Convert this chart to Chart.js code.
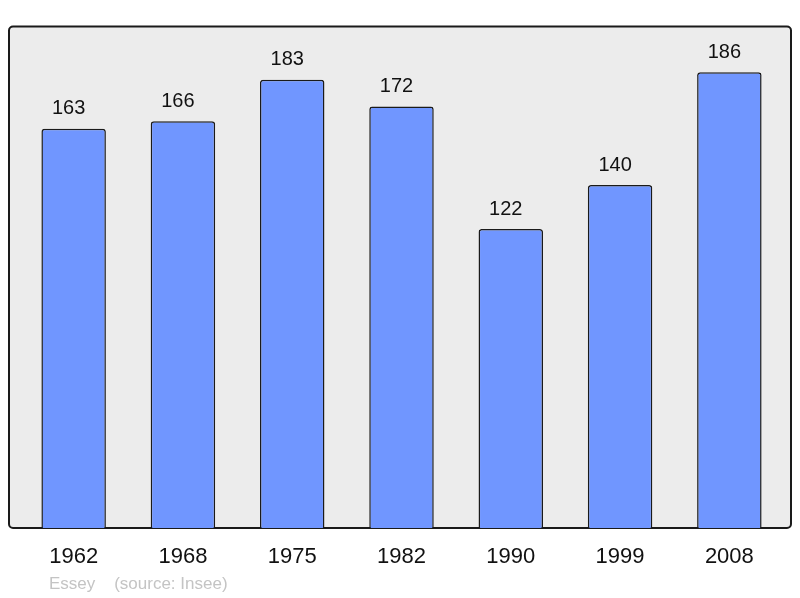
<!DOCTYPE html>
<html>
<head>
<meta charset="utf-8">
<script src="https://cdn.jsdelivr.net/npm/chart.js@4/dist/chart.umd.min.js"></script>
<style>
html,body{margin:0;padding:0;background:#fff;}
#wrap{width:800px;height:598px;position:relative;}
</style>
</head>
<body>
<div id="wrap"><canvas id="c" width="800" height="598"></canvas></div>
<script>
const years = ['1962','1968','1975','1982','1990','1999','2008'];
const population = [163,166,183,172,122,140,186];
const footnote = 'Essey    (source: Insee)';

const framePlugin = {
  id: 'frame',
  beforeDatasetsDraw(chart) {
    const {ctx, chartArea: a} = chart;
    ctx.save();
    const x0 = a.left - 10, x1 = a.right + 7, y0 = a.top - 0.5, y1 = a.bottom;
    ctx.beginPath();
    ctx.roundRect(x0, y0, x1 - x0, y1 - y0, 4);
    ctx.fillStyle = '#ececec';
    ctx.fill();
    ctx.lineWidth = 2;
    ctx.strokeStyle = '#1a1a1a';
    ctx.stroke();
    ctx.restore();
  },
  afterDatasetsDraw(chart) {
    const {ctx} = chart;
    const meta = chart.getDatasetMeta(0);
    ctx.save();
    ctx.font = '20px "Liberation Sans", Arial, sans-serif';
    ctx.fillStyle = '#111';
    ctx.textAlign = 'center';
    ctx.textBaseline = 'middle';
    meta.data.forEach((bar, i) => {
      ctx.fillText(String(population[i]), bar.x - 5, bar.y - 20);
    });
    ctx.font = '17px "Liberation Sans", Arial, sans-serif';
    ctx.fillStyle = '#c4c4c4';
    ctx.textAlign = 'left';
    ctx.fillText(footnote, chart.chartArea.left + 30, 584);
    ctx.restore();
  }
};

new Chart(document.getElementById('c'), {
  type: 'bar',
  data: {
    labels: years,
    datasets: [{
      data: population,
      backgroundColor: '#7096ff',
      borderColor: '#1a1a1a',
      borderWidth: 1.5,
      borderRadius: 3,
      barPercentage: 0.59,
      categoryPercentage: 1
    }]
  },
  options: {
    responsive: false,
    animation: false,
    layout: {padding: {left: 19, right: 16, top: 27, bottom: 0}},
    plugins: {legend: {display: false}, tooltip: {enabled: false}},
    scales: {
      x: {
        offset: true,
        grid: {display: false},
        border: {display: false},
        ticks: {
          color: '#111',
          padding: 8,
          font: {family: '"Liberation Sans", Arial, sans-serif', size: 22}
        },
        afterFit(s) { s.height = 70; }
      },
      y: {
        display: false,
        min: 0,
        max: 204.5
      }
    }
  },
  plugins: [framePlugin]
});
</script>
</body>
</html>
